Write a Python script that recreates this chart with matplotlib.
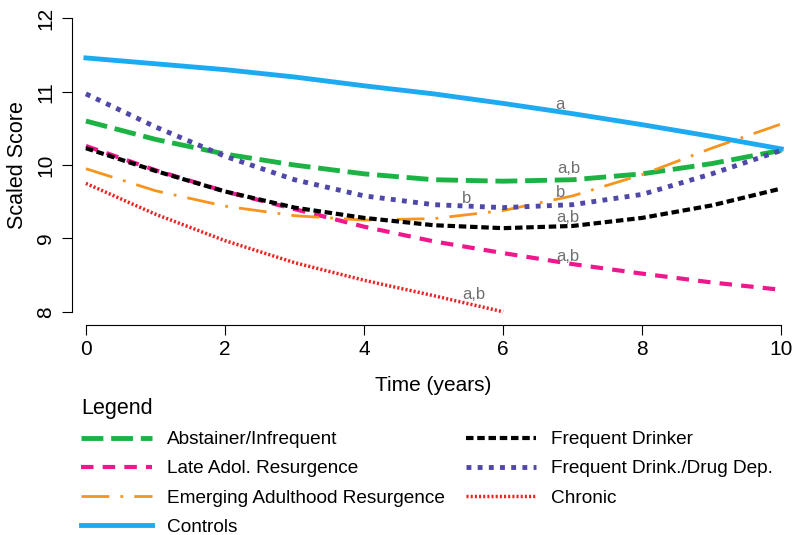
import matplotlib.pyplot as plt

plt.rcParams['font.family'] = ['Liberation Sans', 'DejaVu Sans']

time = [0, 1, 2, 3, 4, 5, 6, 7, 8, 9, 10]
time_chronic = [0, 1, 2, 3, 4, 5, 6]

abstainer = [10.60, 10.35, 10.15, 10.00, 9.88, 9.80, 9.78, 9.80, 9.88, 10.02, 10.20]
late_adol = [10.26, 9.93, 9.64, 9.40, 9.16, 8.96, 8.80, 8.65, 8.52, 8.40, 8.30]
emerging = [9.95, 9.65, 9.44, 9.31, 9.25, 9.27, 9.38, 9.58, 9.87, 10.23, 10.56]
controls = [11.46, 11.38, 11.30, 11.20, 11.08, 10.97, 10.84, 10.70, 10.55, 10.39, 10.22]
freq_drinker = [10.23, 9.92, 9.64, 9.42, 9.28, 9.18, 9.14, 9.17, 9.28, 9.45, 9.68]
freq_drug = [10.97, 10.52, 10.12, 9.80, 9.58, 9.46, 9.42, 9.46, 9.60, 9.88, 10.20]
chronic = [9.75, 9.33, 8.97, 8.67, 8.43, 8.22, 8.00]

# significance letters (text, x, y)
sig_labels = [("a", 6.82, 10.82), ("a,b", 6.94, 9.95), ("b", 5.47, 9.55),
              ("b", 6.82, 9.62), ("a,b", 6.93, 9.29), ("a,b", 6.93, 8.76),
              ("a,b", 5.58, 8.23)]

fig = plt.figure(figsize=(8, 5.35), dpi=100)
ax = fig.add_axes([0.09, 0.3925, 0.904, 0.598])

ax.plot(time, abstainer, color='#1db344', lw=3.5, dashes=(4.5, 1.6),
        label='Abstainer/Infrequent')
ax.plot(time, late_adol, color='#f0168c', lw=3, dashes=(3, 2.2),
        label='Late Adol. Resurgence')
ax.plot(time, emerging, color='#f7941d', lw=2, dashes=(10, 4, 1, 4),
        label='Emerging Adulthood Resurgence')
ax.plot(time, controls, color='#1eaaf1', lw=3.5, label='Controls')
ax.plot(time, freq_drinker, color='black', lw=3, dashes=(1.8, 0.9),
        label='Frequent Drinker')
ax.plot(time, freq_drug, color='#5048a8', lw=3.5, dashes=(1, 1.3),
        label='Frequent Drink./Drug Dep.')
ax.plot(time_chronic, chronic, color='#ee2222', lw=2.5, dashes=(0.6, 0.6),
        label='Chronic')

for txt, x, y in sig_labels:
    ax.text(x, y, txt, color='#707070', fontsize=12, ha='center', va='center')

ax.set_xlim(-0.2, 10.2)
ax.set_ylim(7.82, 12.18)
ax.set_xticks([0, 2, 4, 6, 8, 10])
ax.set_yticks([8, 9, 10, 11, 12])
ax.spines['top'].set_visible(False)
ax.spines['right'].set_visible(False)
ax.spines['left'].set_bounds(8, 12)
ax.spines['bottom'].set_bounds(0, 10)
ax.tick_params(length=7, labelsize=15)
ax.tick_params(axis='y', pad=5)
ax.tick_params(axis='x', pad=4)
for lab in ax.get_yticklabels():
    lab.set_rotation(90)
    lab.set_va('center')
ax.set_xlabel('Time (years)', fontsize=15, labelpad=12)
ax.set_ylabel('Scaled Score', fontsize=15.5, labelpad=6)

leg = fig.legend(loc='upper left', bbox_to_anchor=(0.092, 0.27), ncol=2,
                 frameon=False, fontsize=13.7, title='Legend',
                 title_fontsize=15.5, alignment='left', handlelength=3.7,
                 labelspacing=0.62, columnspacing=1.1, borderaxespad=0)

fig.savefig('out.png', dpi=100)
